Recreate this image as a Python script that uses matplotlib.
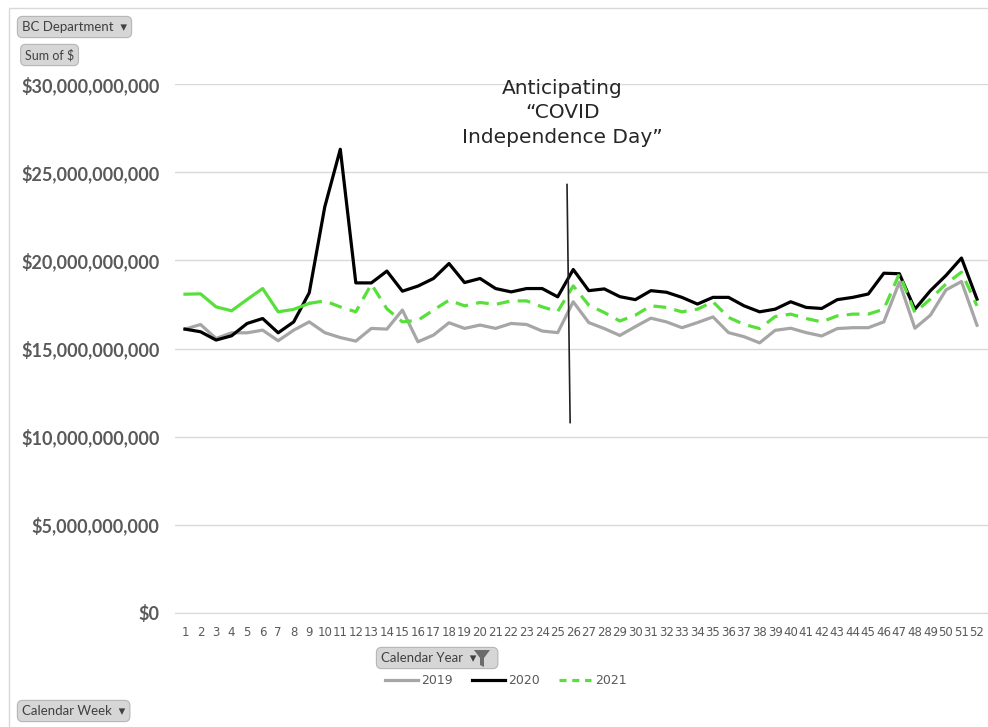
"""
Weekly BC department spend by calendar year (2019-2021), pivot-chart style,
with the "COVID Independence Day" marker around week 26.
"""

import matplotlib.pyplot as plt
from matplotlib.lines import Line2D
from matplotlib.patches import Rectangle, Polygon
from matplotlib.ticker import FuncFormatter

# --- Data (billions of $) ---
WEEKS = list(range(1, 53))

SPEND_2019 = [16.10, 16.36, 15.57, 15.89, 15.89, 16.04, 15.44, 16.04, 16.51, 15.90,
              15.62, 15.42, 16.14, 16.10, 17.18, 15.38, 15.76, 16.46, 16.14, 16.33,
              16.14, 16.42, 16.36, 15.99, 15.90, 17.65, 16.47, 16.13, 15.74, 16.24,
              16.72, 16.51, 16.18, 16.47, 16.79, 15.90, 15.67, 15.32, 16.03, 16.15,
              15.90, 15.71, 16.13, 16.18, 16.18, 16.51, 18.76, 16.15, 16.89, 18.32,
              18.80, 16.32]

SPEND_2020 = [16.10, 15.95, 15.48, 15.72, 16.42, 16.70, 15.89, 16.51, 18.16, 23.03,
              26.30, 18.72, 18.72, 19.39, 18.25, 18.54, 18.97, 19.82, 18.74, 18.97,
              18.40, 18.21, 18.40, 18.40, 17.93, 19.48, 18.28, 18.38, 17.94, 17.77,
              18.28, 18.19, 17.90, 17.52, 17.90, 17.90, 17.42, 17.08, 17.23, 17.65,
              17.33, 17.27, 17.77, 17.90, 18.09, 19.27, 19.24, 17.23, 18.28, 19.14,
              20.13, 17.80]

SPEND_2021 = [18.08, 18.10, 17.36, 17.14, 17.78, 18.40, 17.08, 17.22, 17.56, 17.70,
              17.36, 17.08, 18.65, 17.25, 16.51, 16.60, 17.18, 17.74, 17.42, 17.61,
              17.50, 17.70, 17.70, 17.36, 17.10, 18.55, 17.46, 17.04, 16.56, 16.89,
              17.42, 17.33, 17.08, 17.23, 17.65, 16.76, 16.37, 16.13, 16.81, 16.95,
              16.70, 16.51, 16.85, 16.95, 16.95, 17.23, 19.24, 17.04, 17.81, 18.66,
              19.33, 17.42]

ACTUAL_2021_WEEKS = 9  # 2021 is solid up to here, dashed after

Y_TICKS = [0, 5, 10, 15, 20, 25, 30]

# marker line for the annotation (week, $bn)
MARKER_X = [25.6, 25.8]
MARKER_Y = [24.3, 10.8]
NOTE = "Anticipating\n\u201cCOVID\nIndependence Day\u201d"

GRAY = "#a6a6a6"
GREEN = "#58e03a"
LABEL_GRAY = "#595959"
GRID = "#d9d9d9"

B = 1e9

fig = plt.figure(figsize=(9.88, 7.27), dpi=100)
fig.patch.set_facecolor("white")

# chart panel frame
fig.patches.append(Rectangle((9 / 988, -0.01), 1.0, 1 - 8 / 727 + 0.01,
                             transform=fig.transFigure, fill=False,
                             edgecolor=GRID, lw=1.0))

ax = fig.add_axes([175 / 988, 1 - 613 / 727, 813 / 988, (613 - 84) / 727])

lw = 2.3
ax.plot(WEEKS, [v * B for v in SPEND_2019], color=GRAY, lw=lw, label="2019")
ax.plot(WEEKS, [v * B for v in SPEND_2020], color="black", lw=lw, label="2020")
n = ACTUAL_2021_WEEKS
ax.plot(WEEKS[:n], [v * B for v in SPEND_2021[:n]], color=GREEN, lw=lw,
        label="_nolegend_")
ax.plot(WEEKS[n - 1:], [v * B for v in SPEND_2021[n - 1:]], color=GREEN, lw=lw,
        dashes=(4, 2.6), label="2021")

ax.plot(MARKER_X, [v * B for v in MARKER_Y], color="#222222", lw=1.2)
ax.text(25.3, 30.3 * B, NOTE, ha="center", va="top", fontsize=14.5,
        family="DejaVu Sans", color="#262626", linespacing=1.36)

ax.set_xlim(1 - 10 / 15.53, 52 + 11 / 15.53)
ax.set_ylim(0, 30 * B)
ax.set_xticks(WEEKS)
ax.set_xticklabels([str(w) for w in WEEKS],
                   family=["Liberation Sans Narrow", "DejaVu Sans"],
                   fontsize=8.5, color=LABEL_GRAY)
ax.set_yticks([v * B for v in Y_TICKS])
ax.yaxis.set_major_formatter(FuncFormatter(lambda v, _: f"${v:,.0f}"))
for lbl in ax.get_yticklabels():
    lbl.set_fontfamily("Lato")
    lbl.set_fontweight("bold")
    lbl.set_fontsize(13.0)
    lbl.set_color(LABEL_GRAY)
ax.tick_params(axis="y", length=0, pad=11)
ax.tick_params(axis="x", length=0, pad=9)

ax.grid(axis="y", color=GRID, lw=1)
ax.set_axisbelow(True)
for side in ["top", "right", "left"]:
    ax.spines[side].set_visible(False)
ax.spines["bottom"].set_color(GRID)
ax.set_facecolor("none")

# legend under the axis
handles = [Line2D([], [], color=GRAY, lw=lw),
           Line2D([], [], color="black", lw=lw),
           Line2D([], [], color=GREEN, lw=lw, dashes=(2.2, 1.8))]
fig.legend(handles, ["2019", "2020", "2021"], loc="center",
           bbox_to_anchor=(506 / 988, 1 - 681 / 727), ncol=3, frameon=False,
           handlelength=2.6, handletextpad=0.3, columnspacing=1.5,
           prop={"family": ["Liberation Sans Narrow", "DejaVu Sans"], "size": 9},
           labelcolor=LABEL_GRAY)

# pivot field buttons
button = dict(boxstyle="round,pad=0.35,rounding_size=0.4", facecolor="#d6d6d6",
              edgecolor="#b5b5b5", lw=0.8)
fam = ["Lato", "DejaVu Sans"]
fig.text(22 / 988, 1 - 27 / 727, "BC Department  \u25be", fontsize=9.5,
         family=fam, color="#404040", va="center", bbox=button)
fig.text(25 / 988, 1 - 55 / 727, "Sum of $", fontsize=9, family=fam,
         color="#404040", va="center", bbox=button)
fig.text(22 / 988, 1 - 711 / 727, "Calendar Week  \u25be", fontsize=9.5,
         family=fam, color="#404040", va="center", bbox=button)
fig.text(381 / 988, 1 - 658 / 727, "Calendar Year  \u25be     ", fontsize=9.5,
         family=fam, color="#404040", va="center", bbox=button)
# funnel icon on the Calendar Year button
fx, fy = 482, 650
funnel = [(fx - 8, fy), (fx + 8, fy), (fx + 2, fy + 8), (fx + 2, fy + 17),
          (fx - 2, fy + 15), (fx - 2, fy + 8)]
fig.add_artist(Polygon([(x / 988, 1 - y / 727) for x, y in funnel],
                       closed=True, transform=fig.transFigure,
                       facecolor="#6b6b6b", edgecolor="none", zorder=10))

fig.savefig("out.png", dpi=100)
